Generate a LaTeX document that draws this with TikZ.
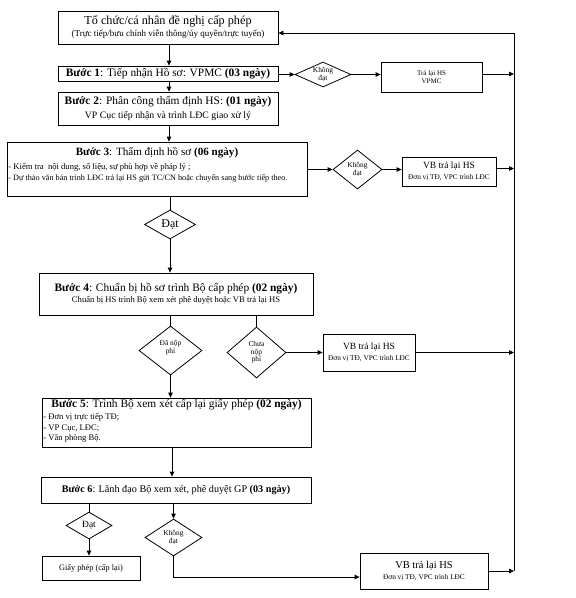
\documentclass[tikz,border=0pt]{standalone}
\usepackage{fontspec}
\setmainfont{Liberation Serif}
\usetikzlibrary{arrows.meta,shapes.geometric}
\begin{document}
\begin{tikzpicture}[x=1pt,y=-1pt,
  line width=0.8pt,
  box/.style={draw, rectangle, inner sep=0pt, align=center},
  dia/.style={draw, diamond, inner sep=0pt},
  arr/.style={-{Triangle[length=5pt,width=4.5pt]}},
  fstep/.style={font=\fontsize{11.4}{13}\selectfont},
  fsmall/.style={font=\fontsize{8.6}{10}\selectfont},
  dlab/.style={font=\fontsize{7.4}{7.6}\selectfont, align=center},
]
\newcommand{\vbtext}[1]{{\fontsize{#1}{11}\selectfont VB trả lại HS}\\[-1pt]{\fontsize{7.3}{9}\selectfont Đơn vị TĐ, VPC trình LĐC}}
\useasboundingbox (0,0) rectangle (576,598);
% main column
\node[box, minimum width=220pt, minimum height=33pt] (b0) at (168,27.5)
  {{\fontsize{12.2}{13}\selectfont Tổ chức/cá nhân đề nghị cấp phép}\\[0pt]
   {\fontsize{9}{10}\selectfont (Trực tiếp/bưu chính viễn thông/ủy quyền/trực tuyến)}};
\node[box, fstep, minimum width=220pt, minimum height=15pt] (b1) at (168,73.5)
  {\textbf{Bước 1}: Tiếp nhận Hồ sơ: VPMC \textbf{(03 ngày)}};
\node[box, minimum width=220pt, minimum height=33pt] (b2) at (168,108.5)
  {{\fontsize{11.4}{13}\selectfont\textbf{Bước 2}: Phân công thẩm định HS: \textbf{(01 ngày)}}\\[1.5pt]
   {\fontsize{9.8}{10}\selectfont VP Cục tiếp nhận và trình LĐC giao xử lý}};
\node[box, minimum width=300pt, minimum height=54pt] (b3) at (157,169) {};
\node[font=\fontsize{11.1}{13}\selectfont, inner sep=0pt] (b3t) at (157,153) {\textbf{Bước 3}: Thẩm định hồ sơ \textbf{(06 ngày)}};
\node[fsmall, inner sep=0pt, anchor=west] (b3a) at (8,167.5) {- Kiểm tra\ \ nội dung, số liệu, sự phù hợp về pháp lý ;};
\node[font=\fontsize{8.2}{10}\selectfont, inner sep=0pt, anchor=west] (b3b) at (8,178) {- Dự thảo văn bản trình LĐC trả lại HS gửi TC/CN hoặc chuyển sang bước tiếp theo.};
\node[dia, minimum width=51pt, minimum height=29pt,
  label={[font=\fontsize{12}{13}\selectfont]center:Đạt}] (d3) at (170,224.5) {};
\node[box, minimum width=274pt, minimum height=42pt] (b4) at (176,294)
  {{\fontsize{11.4}{13}\selectfont\textbf{Bước 4}: Chuẩn bị hồ sơ trình Bộ cấp phép \textbf{(02 ngày)}}\\[-1pt]
   {\fontsize{8.6}{10}\selectfont Chuẩn bị HS trình Bộ xem xét phê duyệt hoặc VB trả lại HS}};
\node[dia, minimum width=63pt, minimum height=49pt,
  label={[dlab, yshift=3pt]center:Đã nộp\\phí}] (dp) at (170.5,350.5) {};
\node[dia, minimum width=59pt, minimum height=51pt,
  label={[dlab]center:Chưa\\nộp\\phí}] (cp) at (256.5,352.5) {};
\node[box, minimum width=269pt, minimum height=49pt] (b5) at (176.5,422.5) {};
\node[fstep, inner sep=0pt] (b5t) at (176.5,405) {\textbf{Bước 5}: Trình Bộ xem xét cấp lại giấy phép \textbf{(02 ngày)}};
\node[fsmall, inner sep=0pt, anchor=west] (b5a) at (43,417.5) {- Đơn vị trực tiếp TĐ;};
\node[fsmall, inner sep=0pt, anchor=west] (b5b) at (43,428) {- VP Cục, LĐC;};
\node[fsmall, inner sep=0pt, anchor=west] (b5c) at (43,438.5) {- Văn phòng Bộ.};
\node[box, font=\fontsize{10.2}{12}\selectfont, minimum width=270pt, minimum height=26pt] (b6) at (176,490)
  {\textbf{Bước 6}: Lãnh đạo Bộ xem xét, phê duyệt GP \textbf{(03 ngày)}};
\node[dia, minimum width=46pt, minimum height=27pt,
  label={[font=\fontsize{9.5}{10}\selectfont]center:Đạt}] (d6a) at (89,525.5) {};
\node[box, font=\fontsize{8.3}{10}\selectfont, minimum width=98pt, minimum height=24pt] (gp) at (91,568) {Giấy phép (cấp lại)};
\node[dia, minimum width=57pt, minimum height=37pt,
  label={[dlab]center:Không\\đạt}] (d6b) at (173.5,537.5) {};
% right side
\node[dia, minimum width=56pt, minimum height=25pt,
  label={[dlab]center:Không\\đạt}] (d1) at (323,74.5) {};
\node[box, font=\fontsize{7}{8}\selectfont, minimum width=101pt, minimum height=30pt] (tl) at (431.5,77) {Trả lại HS\\VPMC};
\node[dia, minimum width=49pt, minimum height=39pt,
  label={[dlab]center:Không\\đạt}] (d2) at (357.5,169.5) {};
\node[box, minimum width=94pt, minimum height=29pt] (vb1) at (449,171.5) {\vbtext{9.5}};
\node[box, minimum width=92pt, minimum height=37pt] (vb2) at (369,352.5) {\vbtext{9.5}};
\node[box, minimum width=128pt, minimum height=36pt] (vb3) at (424,571) {\vbtext{10.5}};
\coordinate (rt) at (514,33);
\coordinate (rb) at (514,571);
% connectors
\draw[arr] ([xshift=1pt]b0.south) -- ([xshift=1pt]b0.south |- b1.north);
\draw[arr] ([xshift=1pt]b1.south) -- ([xshift=1pt]b1.south |- b2.north);
\draw[arr] ([xshift=1pt]b2.south) -- ([xshift=1pt]b2.south |- b3.north);
\draw (d3.north |- b3.south) -- (d3.north);
\draw[arr] (d3.south) -- (d3.south |- b4.north);
\draw (dp.north |- b4.south) -- (dp.north);
\draw (cp.north |- b4.south) -- (cp.north);
\draw[arr] (dp.south) -- (dp.south |- b5.north);
\draw[arr] ([xshift=-4.5pt]b5.south) -- ([xshift=-4.5pt]b5.south |- b6.north);
\draw (d6a.north |- b6.south) -- (d6a.north);
\draw[arr] (d6a.south) -- (d6a.south |- gp.north);
\draw[arr] (d6b.north |- b6.south) -- (d6b.north);
\draw[arr] (d6b.south) |- ([yshift=-6pt]vb3.west);
\draw[arr] (b1.east |- d1.west) -- (d1.west);
\draw[arr] (d1.east) -- (d1.east -| tl.west);
\draw[arr] ([yshift=3pt]tl.east) -- ([yshift=3pt]tl.east -| rt);
\draw[arr] (b3.east |- d2.west) -- (d2.west);
\draw[arr] (d2.east) -- (d2.east -| vb1.west);
\draw[arr] ([yshift=3pt]vb1.east) -- ([yshift=3pt]vb1.east -| rt);
\draw[arr] (cp.east) -- (cp.east -| vb2.west);
\draw[arr] (vb2.east) -- (vb2.east -| rt);
\draw[arr] (vb3.east) -- (rb);
\draw[arr] (rb) -- (rt) -- (rt -| b0.east);
\end{tikzpicture}
\end{document}
